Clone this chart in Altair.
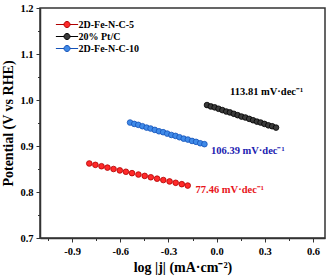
import altair as alt
import pandas as pd

series_names = ["2D-Fe-N-C-5", "20% Pt/C", "2D-Fe-N-C-10"]
fill_colors = ["#ff2a2a", "#3a3a3a", "#3f8ae8"]
stroke_colors = ["#b00000", "#000000", "#1452b8"]

red_x = [-0.793, -0.755, -0.717, -0.680, -0.642, -0.603, -0.565, -0.527, -0.487,
         -0.448, -0.410, -0.371, -0.332, -0.293, -0.255, -0.217, -0.180]
red_y = [0.862, 0.859, 0.856, 0.853, 0.850, 0.847, 0.844, 0.841, 0.838,
         0.835, 0.832, 0.829, 0.826, 0.823, 0.820, 0.817, 0.814]

black_x = [-0.060, -0.036, -0.012, 0.012, 0.036, 0.060, 0.083, 0.107, 0.131, 0.155,
           0.179, 0.203, 0.227, 0.251, 0.274, 0.298, 0.322, 0.346, 0.370]
black_y = [0.989, 0.986, 0.984, 0.981, 0.978, 0.975, 0.973, 0.970, 0.967, 0.964,
           0.962, 0.959, 0.956, 0.953, 0.951, 0.948, 0.945, 0.943, 0.940]

blue_x = [-0.539, -0.513, -0.488, -0.462, -0.436, -0.411, -0.385, -0.359, -0.333, -0.308,
          -0.282, -0.256, -0.231, -0.205, -0.179, -0.153, -0.128, -0.102, -0.076]
blue_y = [0.951, 0.948, 0.946, 0.943, 0.940, 0.938, 0.935, 0.932, 0.930, 0.927,
          0.924, 0.922, 0.919, 0.916, 0.914, 0.911, 0.909, 0.906, 0.904]

ann_labels = ["77.46 mV·dec⁻¹", "113.81 mV·dec⁻¹", "106.39 mV·dec⁻¹"]
ann_x = [-0.131, 0.084, -0.035]
ann_y = [0.8054, 1.017, 0.890]
ann_colors = ["#e8141a", "#000000", "#1c1cb0"]

x_ticks = [-1.05, -0.9, -0.75, -0.6, -0.45, -0.3, -0.15, 0.0, 0.15, 0.3, 0.45, 0.6]
y_ticks = [0.7, 0.75, 0.8, 0.85, 0.9, 0.95, 1.0, 1.05, 1.1, 1.15, 1.2]

rows = []
for name, xs, ys in [(series_names[0], red_x, red_y),
                     (series_names[1], black_x, black_y),
                     (series_names[2], blue_x, blue_y)]:
    for xv, yv in zip(xs, ys):
        rows.append({"series": name, "x": xv, "y": yv})
df = pd.DataFrame(rows)
ann = pd.DataFrame({"label": ann_labels, "x": ann_x, "y": ann_y, "color": ann_colors})

FONT = "Liberation Serif"
x_major = "abs(datum.value*10/3 - round(datum.value*10/3)) < 0.01"
y_major = "abs(datum.value*10 - round(datum.value*10)) < 0.01"

xscale = alt.Scale(domain=[-1.1, 0.675], nice=False, zero=False)
yscale = alt.Scale(domain=[0.7, 1.2], nice=False, zero=False)

xaxis = alt.Axis(
    title="log |j| (mA·cm⁻²)", values=x_ticks, grid=False, format=".1f",
    labelExpr=f"({x_major}) ? replace(datum.label, '−', '-') : ''",
    labelOverlap=False, labelFlush=False, labelFont=FONT, labelFontWeight="bold",
    labelFontSize=10.5, labelColor="#000", labelPadding=4,
    tickSize={"condition": {"test": x_major, "value": 4}, "value": 2.5},
    tickColor="#333", tickWidth=1, domainColor="#333", domainWidth=1.5,
    titleFont=FONT, titleFontWeight="bold", titleFontSize=14, titleColor="#000",
    titlePadding=4,
)
yaxis = alt.Axis(
    title="Potential (V vs RHE)", values=y_ticks, grid=False, format=".1f",
    labelExpr=f"({y_major}) ? datum.label : ''",
    labelOverlap=False, labelFlush=False, labelFont=FONT, labelFontWeight="bold",
    labelFontSize=10.5, labelColor="#000", labelPadding=3,
    tickSize={"condition": {"test": y_major, "value": 4}, "value": 2.5},
    tickColor="#333", tickWidth=1, domainColor="#333", domainWidth=1.5,
    titleFont=FONT, titleFontWeight="bold", titleFontSize=14, titleColor="#000",
    titlePadding=4,
)

legend_path = "M-3.7,0L-1,0M1,0L3.7,0M-1,0A1,1,0,1,0,1,0A1,1,0,1,0,-1,0Z"
leg = alt.Legend(
    title=None, orient="none", legendX=22, legendY=11.5,
    symbolType=legend_path, symbolSize=36, symbolStrokeWidth=1,
    labelFont=FONT, labelFontWeight="bold", labelFontSize=10, labelColor="#000",
    labelOffset=6.5, rowPadding=2,
)

points = alt.Chart(df).mark_point(filled=True, size=32, strokeWidth=0.8, opacity=1).encode(
    x=alt.X("x:Q", scale=xscale, axis=xaxis),
    y=alt.Y("y:Q", scale=yscale, axis=yaxis),
    fill=alt.Fill("series:N", scale=alt.Scale(domain=series_names, range=fill_colors),
                  legend=leg, sort=series_names),
    stroke=alt.Stroke("series:N", scale=alt.Scale(domain=series_names, range=stroke_colors),
                      legend=leg, sort=series_names),
)

texts = alt.Chart(ann).mark_text(
    align="left", baseline="middle", font=FONT, fontWeight="bold", fontSize=10.5
).encode(
    x=alt.X("x:Q", scale=xscale, axis=xaxis),
    y=alt.Y("y:Q", scale=yscale, axis=yaxis),
    text="label:N",
    color=alt.Color("color:N", scale=None),
)

chart = alt.layer(points, texts).properties(
    width=285, height=230,
    autosize=alt.AutoSizeParams(type="none"),
    padding={"left": 40, "top": 8, "right": 7, "bottom": 40},
    background="white",
).configure_view(stroke="#333", strokeWidth=1.5)

chart.save("out.html", embed_options={"renderer": "svg", "actions": False})
